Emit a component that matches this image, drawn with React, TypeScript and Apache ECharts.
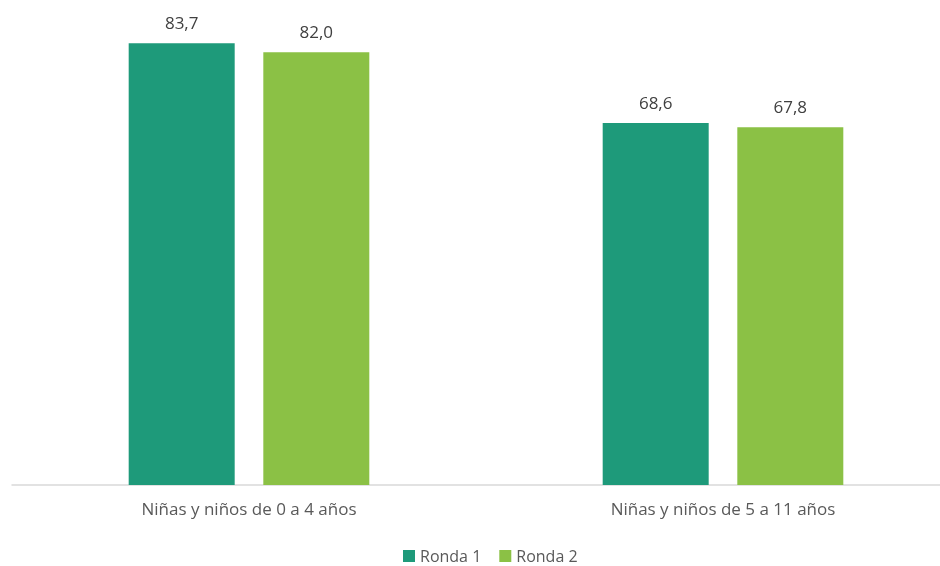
import React, { useEffect, useRef } from "react";
import * as echarts from "echarts";

const categories = ["Niñas y niños de 0 a 4 años", "Niñas y niños de 5 a 11 años"];
const seriesNames = ["Ronda 1", "Ronda 2"];
const ronda1 = [83.7, 68.6];
const ronda2 = [82.0, 67.8];
const colors = ["#1E9A7A", "#8BC145"];

export default function App() {
  const ref = useRef<HTMLDivElement>(null);
  useEffect(() => {
    document.body.style.margin = "0";
    document.body.style.overflow = "hidden";
    const chart = echarts.init(ref.current!, null, { renderer: "svg" });
    const font = "'Open Sans', 'Noto Sans', sans-serif";
    const label = {
      show: true,
      position: "top" as const,
      distance: 12,
      color: "#404040",
      fontSize: 17,
      fontFamily: font,
      formatter: (p: any) => p.value.toFixed(1).replace(".", ","),
    };
    chart.setOption({
      animation: false,
      textStyle: { fontFamily: font },
      grid: { left: 12, right: 0, top: 10, height: 475 },
      legend: {
        data: seriesNames,
        left: 398,
        top: 543,
        itemWidth: 12,
        itemHeight: 12,
        itemGap: 18,
        icon: "rect",
        textStyle: { color: "#595959", fontSize: 16, fontFamily: font },
      },
      xAxis: {
        type: "category",
        data: categories,
        axisLine: { lineStyle: { color: "#D9D9D9", width: 1.5 } },
        axisTick: { show: false },
        axisLabel: { color: "#595959", fontSize: 17, margin: 15, fontFamily: font },
      },
      yAxis: {
        type: "value",
        min: 0,
        max: 90,
        show: false,
        splitLine: { show: false },
      },
      series: [
        {
          name: seriesNames[0],
          type: "bar",
          data: ronda1,
          barWidth: 106,
          barGap: "27%",
          itemStyle: { color: colors[0] },
          label,
        },
        {
          name: seriesNames[1],
          type: "bar",
          data: ronda2,
          barWidth: 106,
          barGap: "27%",
          itemStyle: { color: colors[1] },
          label,
        },
      ],
    });
    return () => chart.dispose();
  }, []);
  return <div ref={ref} style={{ position: "fixed", left: 0, top: 0, width: 960, height: 566 }} />;
}
